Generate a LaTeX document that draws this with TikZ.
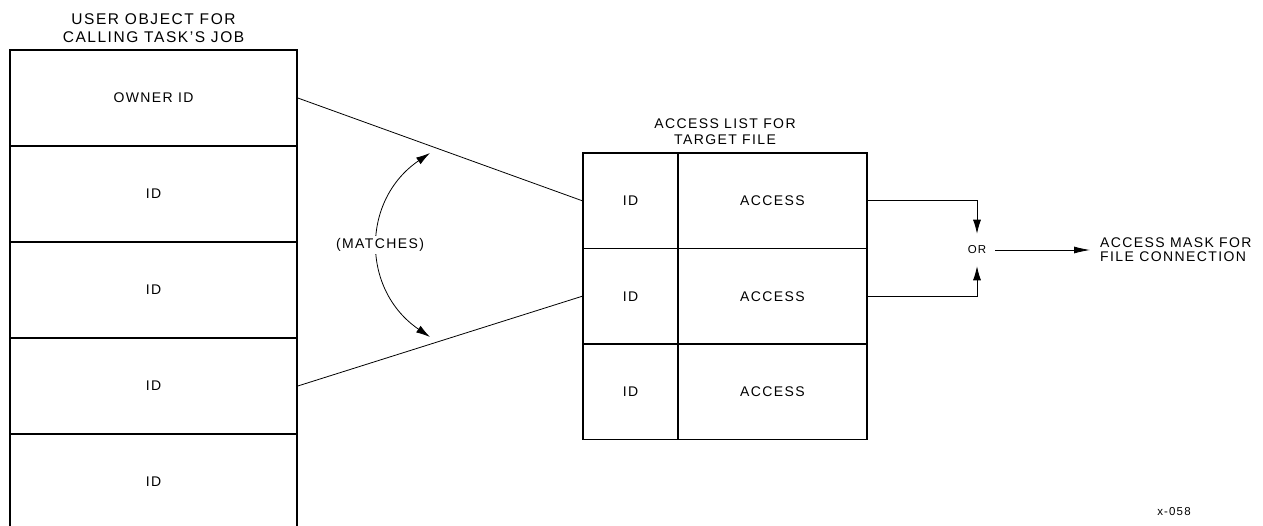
\documentclass[tikz,border=0pt]{standalone}
\usepackage{fontspec}
\setmainfont{Liberation Sans}[LetterSpace=10]
\usetikzlibrary{arrows.meta}
\begin{document}
\begin{tikzpicture}[x=1pt,y=-1pt,
  frame/.style={line width=1.6pt},
  thin/.style={line width=0.8pt},
  body/.style={font=\fontsize{14}{16}\selectfont},
  ucell/.style={body,frame,draw,inner sep=0pt,minimum width=287pt,minimum height=96pt},
  idcell/.style={body,frame,draw,inner sep=0pt,minimum width=95pt,minimum height=95.5pt},
  accell/.style={body,frame,draw,inner sep=0pt,minimum width=189pt,minimum height=95.5pt},
  tip/.style={-{Latex[length=14pt,width=8pt]}},
  dtip/.style={{Latex[length=14pt,width=8pt]}-{Latex[length=14pt,width=8pt]}},
]
\useasboundingbox[fill=white] (0,0) rectangle (1263,526);

% user object for the calling task's job
\node[font=\fontsize{15.5}{18}\selectfont,align=center,anchor=south,inner sep=0pt]
  (utitle) at (153.5,43) {USER OBJECT FOR\\CALLING TASK'S JOB};
\node[ucell] (u1) at (153.5,98) {OWNER ID};
\node[ucell] (u2) at (153.5,194) {ID};
\node[ucell] (u3) at (153.5,290) {ID};
\node[ucell] (u4) at (153.5,386) {ID};
\node[body,inner sep=0pt,minimum width=287pt,minimum height=96pt] (u5) at (153.5,482) {ID};
\draw[frame] (u5.south west) -- (u5.north west) -- (u5.north east) -- (u5.south east);

% access list for the target file
\node[body,align=center,anchor=south,inner sep=0pt,font=\fontsize{14}{16.5}\selectfont]
  (atitle) at (725,145) {ACCESS LIST FOR\\TARGET FILE};
\node[idcell] (a1) at (630.5,200.75) {ID};
\node[accell] (c1) at (772.5,200.75) {ACCESS};
\node[idcell] (a2) at (630.5,296.25) {ID};
\node[accell] (c2) at (772.5,296.25) {ACCESS};
\node[idcell] (a3) at (630.5,391.75) {ID};
\node[accell] (c3) at (772.5,391.75) {ACCESS};

% matching entries
\draw[thin] (u1.east) -- (a1.west);
\draw[thin] (u4.east) -- (a2.west);
\coordinate (mtop) at (430,153);
\coordinate (mbot) at (430,337);
\draw[thin,dtip] (mtop) .. controls (361,200) and (361,290) .. (mbot);
\node[body,fill=white,inner sep=2pt] (match) at (380,245) {(MATCHES)};

% combining the access rights
\node[font=\fontsize{11.5}{13}\selectfont,inner xsep=9pt,inner ysep=12pt] (or) at (977,250) {OR};
\draw[thin,tip] (c1.east) -| (or.north);
\draw[thin,tip] (c2.east) -| (or.south);
\node[body,align=left,anchor=west,inner xsep=10pt,inner ysep=0pt,font=\fontsize{14}{14}\selectfont]
  (mask) at (1090,250) {ACCESS MASK FOR\\FILE CONNECTION};
\draw[thin,-{Latex[length=16pt,width=7pt]}] (or.east) -- (or.east -| mask.west);

\node[font=\fontsize{11.5}{13}\selectfont,inner sep=0pt] (fig) at (1174,512) {x-058};
\end{tikzpicture}
\end{document}
